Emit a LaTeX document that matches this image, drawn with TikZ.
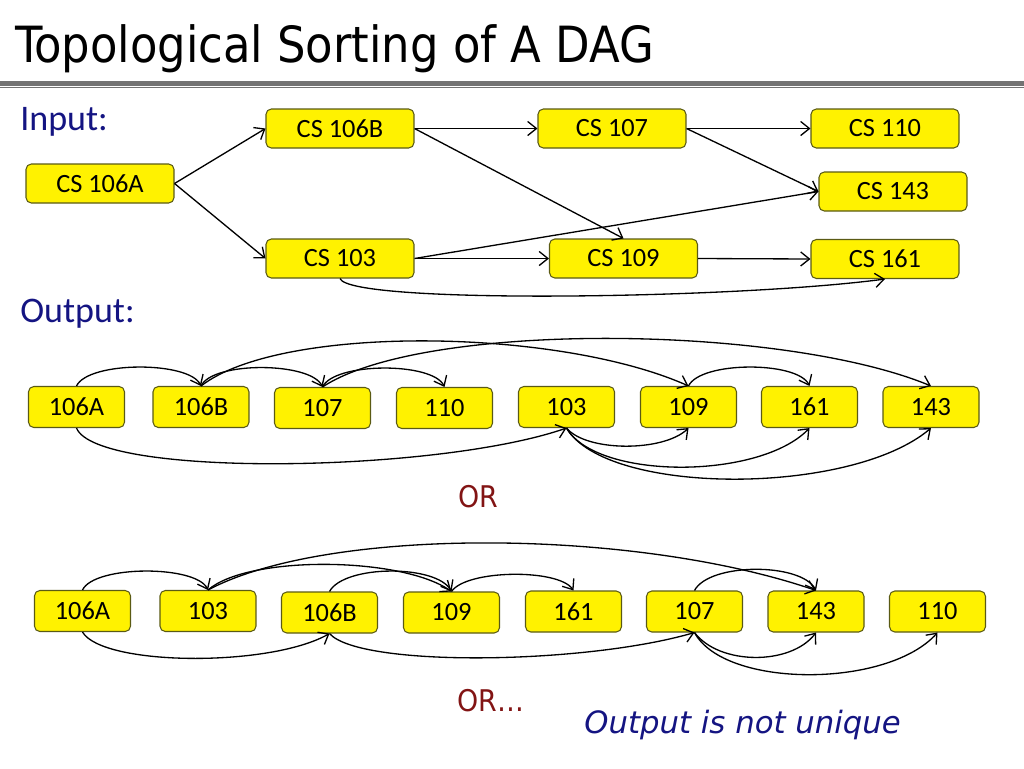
\documentclass[tikz,border=0pt]{standalone}
\usepackage{fontspec}
\setmainfont{Carlito}
\newfontfamily\titlefont{DejaVu Sans Condensed}
\newfontfamily\notefont{DejaVu Sans}
\usetikzlibrary{arrows.meta}
\definecolor{navy}{RGB}{20,20,130}
\definecolor{darkred}{RGB}{130,20,20}
\definecolor{boxborder}{RGB}{90,90,20}
\definecolor{ruleg}{RGB}{115,115,115}
\begin{document}
\begin{tikzpicture}[x=0.02cm,y=-0.02cm,
 box/.style={draw=boxborder, fill=yellow, rounded corners=3pt, line width=0.6pt, inner sep=0pt, font=\fontsize{15}{17}\selectfont},
 inbox/.style={box, minimum width=2.96cm, minimum height=0.78cm},
 outbox/.style={box, minimum width=1.92cm, minimum height=0.82cm},
 arr/.style={line width=0.75pt, -{Straight Barb[length=5pt,width=8pt]}},
 lbl/.style={inner sep=0pt, anchor=base west, text=navy, font=\fontsize{20.5}{24}\selectfont},
 ortext/.style={inner sep=0pt, anchor=base west, text=darkred, font=\titlefont\fontsize{17}{20}\selectfont}
]
\useasboundingbox (0,0) rectangle (1024,768);
% title and rule
\node[anchor=base west, inner sep=0pt, font=\titlefont\fontsize{28.4}{32}\selectfont] (title) at (15,62) {Topological Sorting of A DAG};
\fill[ruleg] (0,81) rectangle (1024,85.5);
\draw[ruleg, line width=0.6pt] (0,87.8) -- (1024,87.8);
% labels
\node[lbl] (inlbl) at (20,130) {Input:};
\node[lbl] (outlbl) at (20,322) {Output:};
% input graph
\node[inbox] (i106a) at (100,183.5) {CS 106A};
\node[inbox] (i106b) at (340,128.5) {CS 106B};
\node[inbox] (i103) at (340,258.5) {CS 103};
\node[inbox] (i107) at (612,128.5) {CS 107};
\node[inbox] (i110) at (885,128.5) {CS 110};
\node[inbox] (i143) at (893,191.5) {CS 143};
\node[inbox] (i109) at (623.5,258.5) {CS 109};
\node[inbox] (i161) at (885,259) {CS 161};
\draw[arr] (i106a.east) -- (i106b.west);
\draw[arr] (i106a.east) -- (i103.west);
\draw[arr] (i106b.east) -- (i107.west);
\draw[arr] (i106b.east) -- (i109.north);
\draw[arr] (i107.east) -- (i110.west);
\draw[arr] (i107.east) -- (i143.west);
\draw[arr] (i103.east) -- (i143.west);
\draw[arr] (i103.east) -- (i109.west);
\draw[arr] (i109.east) -- (i161.west);
\draw[arr] (i103.south) .. controls +(10,26) and +(-150,20) .. (i161.south);
% output row 1
\node[outbox] (r1a) at (76.5,407) {106A};
\node[outbox] (r1b) at (201,407) {106B};
\node[outbox] (r1c) at (322.5,408) {107};
\node[outbox] (r1d) at (444.5,408) {110};
\node[outbox] (r1e) at (566.5,407) {103};
\node[outbox] (r1f) at (688.5,407) {109};
\node[outbox] (r1g) at (809.5,407) {161};
\node[outbox] (r1h) at (931,407) {143};
\draw[arr] (r1a.north) .. controls +(12,-25) and +(-12,-25) .. (r1b.north);
\draw[arr] (r1b.north) .. controls +(12,-25) and +(-12,-25) .. (r1c.north);
\draw[arr] (r1c.north) .. controls +(12,-25) and +(-12,-25) .. (r1d.north);
\draw[arr] (r1b.north) .. controls +(80,-62) and +(-130,-58) .. (r1f.north);
\draw[arr] (r1c.north) .. controls +(100,-66) and +(-150,-62) .. (r1h.north);
\draw[arr] (r1f.north) .. controls +(12,-25) and +(-12,-25) .. (r1g.north);
\draw[arr] (r1a.south) .. controls +(20,50) and +(-130,45) .. (r1e.south);
\draw[arr] (r1e.south) .. controls +(20,24) and +(-25,24) .. (r1f.south);
\draw[arr] (r1e.south) .. controls +(30,52) and +(-50,52) .. (r1g.south);
\draw[arr] (r1e.south) .. controls +(40,68) and +(-80,68) .. (r1h.south);
\node[ortext] (or1) at (458,507) {OR};
% output row 2
\node[outbox] (r2a) at (82.5,611) {106A};
\node[outbox] (r2b) at (208,611) {103};
\node[outbox] (r2c) at (329.5,612.5) {106B};
\node[outbox] (r2d) at (451.5,612.5) {109};
\node[outbox] (r2e) at (573.5,611.5) {161};
\node[outbox] (r2f) at (694.5,611.5) {107};
\node[outbox] (r2g) at (816,611.5) {143};
\node[outbox] (r2h) at (937.5,611.5) {110};
\draw[arr] (r2a.north) .. controls +(12,-25) and +(-12,-25) .. (r2b.north);
\draw[arr] (r2b.north) .. controls +(40,-35) and +(-50,-35) .. (r2d.north);
\draw[arr] (r2b.north) .. controls +(120,-64) and +(-180,-62) .. (r2g.north);
\draw[arr] (r2c.north) .. controls +(15,-27) and +(-15,-27) .. (r2d.north);
\draw[arr] (r2d.north) .. controls +(15,-22) and +(-15,-22) .. (r2e.north);
\draw[arr] (r2f.north) .. controls +(15,-28) and +(-15,-28) .. (r2g.north);
\draw[arr] (r2a.south) .. controls +(20,34) and +(-60,34) .. (r2c.south);
\draw[arr] (r2c.south) .. controls +(30,34) and +(-110,32) .. (r2f.south);
\draw[arr] (r2f.south) .. controls +(25,33) and +(-25,33) .. (r2g.south);
\draw[arr] (r2f.south) .. controls +(30,56) and +(-50,56) .. (r2h.south);
\node[ortext] (or2) at (457,711) {OR…};
\node[inner sep=0pt, anchor=base west, text=navy, font=\notefont\itshape\fontsize{17.5}{20}\selectfont] (note) at (584,733) {Output is not unique};
\end{tikzpicture}
\end{document}
